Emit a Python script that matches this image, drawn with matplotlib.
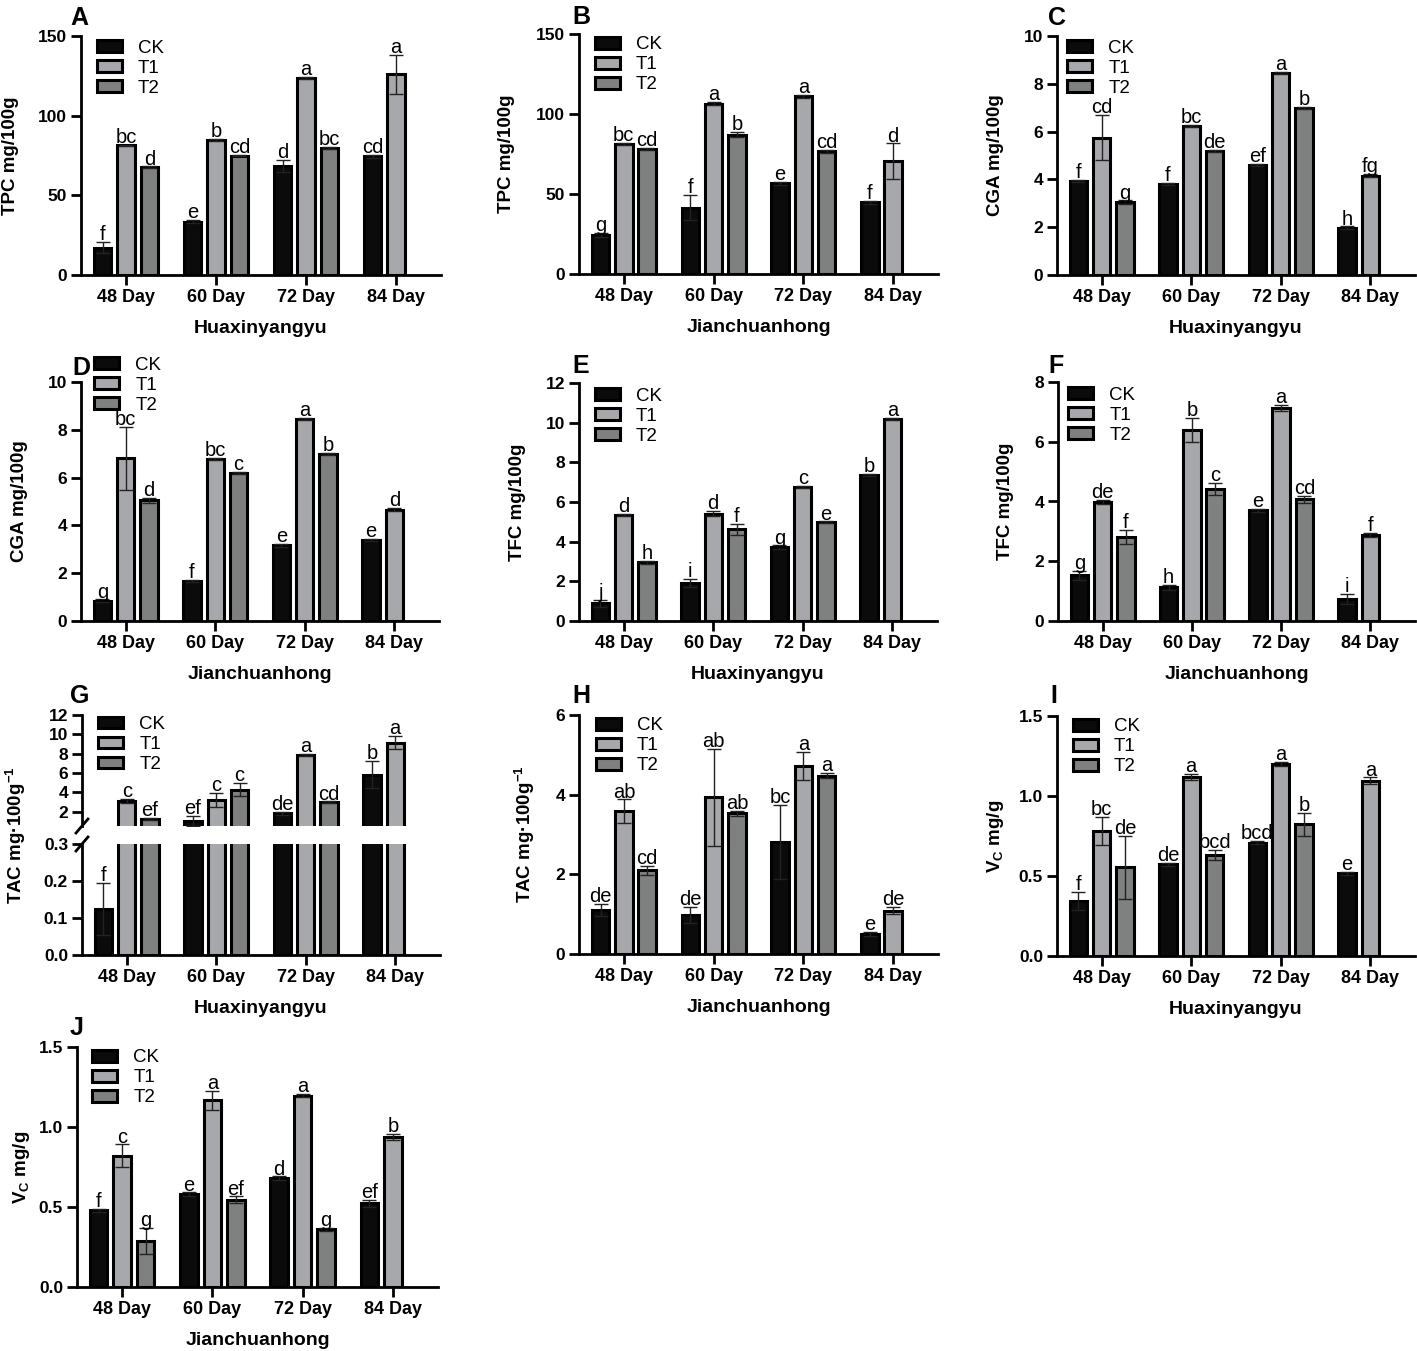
import numpy as np
import matplotlib.pyplot as plt

plt.rcParams['font.family'] = ['Liberation Sans', 'DejaVu Sans']
plt.rcParams['mathtext.fontset'] = 'custom'
plt.rcParams['mathtext.rm'] = 'Liberation Sans'
plt.rcParams['mathtext.bf'] = 'Liberation Sans:bold'
plt.rcParams['mathtext.it'] = 'Liberation Sans:italic'

nan = np.nan
days = ['48 Day', '60 Day', '72 Day', '84 Day']
groups = ['CK', 'T1', 'T2']
colors = ['#0b0b0b', '#a7a8ab', '#7f8180']

# rows: CK, T1, T2 ; columns: 48, 60, 72, 84 day (no T2 at 84 day)
# A  TPC - Huaxinyangyu
a_mean = [[17.1, 33.4, 68.3, 74.5], [81.4, 85.0, 123.6, 125.9], [67.6, 75.0, 79.7, nan]]
a_err = [[3.4, 1.0, 3.7, 0.8], [0.5, 0.6, 0.6, 12.0], [0.5, 0.6, 0.8, nan]]
a_let = [['f', 'e', 'd', 'cd'], ['bc', 'b', 'a', 'a'], ['d', 'cd', 'bc', '']]

# B  TPC - Jianchuanhong
b_mean = [[24.2, 41.5, 56.8, 44.7], [81.4, 106.5, 111.0, 70.6], [78.0, 87.0, 76.6, nan]]
b_err = [[1.2, 8.0, 1.0, 0.8], [0.5, 1.0, 1.0, 11.0], [0.5, 1.5, 1.0, nan]]
b_let = [['g', 'f', 'e', 'f'], ['bc', 'a', 'a', 'd'], ['cd', 'b', 'cd', '']]

# C  CGA - Huaxinyangyu
c_mean = [[3.93, 3.81, 4.60, 1.98], [5.75, 6.23, 8.44, 4.16], [3.05, 5.19, 7.00, nan]]
c_err = [[0.05, 0.05, 0.05, 0.05], [0.93, 0.05, 0.05, 0.05], [0.07, 0.05, 0.05, nan]]
c_let = [['f', 'f', 'ef', 'h'], ['cd', 'bc', 'a', 'fg'], ['g', 'de', 'b', '']]

# D  CGA - Jianchuanhong
d_mean = [[0.85, 1.68, 3.16, 3.38], [6.80, 6.77, 8.46, 4.66], [5.05, 6.18, 6.98, nan]]
d_err = [[0.05, 0.05, 0.05, 0.05], [1.30, 0.05, 0.05, 0.07], [0.10, 0.05, 0.05, nan]]
d_let = [['g', 'f', 'e', 'e'], ['bc', 'bc', 'a', 'd'], ['d', 'c', 'b', '']]

# E  TFC - Huaxinyangyu
e_mean = [[0.89, 1.90, 3.71, 7.35], [5.34, 5.42, 6.76, 10.20], [2.95, 4.63, 4.97, nan]]
e_err = [[0.17, 0.20, 0.10, 0.05], [0.05, 0.15, 0.05, 0.05], [0.10, 0.28, 0.05, nan]]
e_let = [['j', 'i', 'g', 'b'], ['d', 'd', 'c', 'a'], ['h', 'f', 'e', '']]

# F  TFC - Jianchuanhong
f_mean = [[1.53, 1.13, 3.70, 0.74], [3.98, 6.40, 7.12, 2.87], [2.81, 4.42, 4.08, nan]]
f_err = [[0.15, 0.08, 0.05, 0.18], [0.08, 0.40, 0.10, 0.07], [0.24, 0.20, 0.12, nan]]
f_let = [['g', 'h', 'e', 'i'], ['de', 'b', 'a', 'f'], ['f', 'c', 'cd', '']]

# G  TAC - Huaxinyangyu (broken axis)
g_mean = [[0.124, 1.02, 1.80, 5.80], [3.10, 3.20, 7.90, 9.15], [1.20, 4.26, 2.94, nan]]
g_err = [[0.07, 0.50, 0.20, 1.40], [0.20, 0.70, 0.10, 0.70], [0.10, 0.70, 0.10, nan]]
g_let = [['f', 'ef', 'de', 'b'], ['c', 'c', 'a', 'a'], ['ef', 'c', 'cd', '']]

# H  TAC - Jianchuanhong
h_mean = [[1.11, 0.99, 2.82, 0.51], [3.58, 3.93, 4.72, 1.09], [2.10, 3.53, 4.48, nan]]
h_err = [[0.15, 0.20, 0.93, 0.05], [0.30, 1.22, 0.36, 0.08], [0.12, 0.07, 0.07, nan]]
h_let = [['de', 'de', 'bc', 'e'], ['ab', 'ab', 'a', 'de'], ['cd', 'ab', 'a', '']]

# I  Vc - Huaxinyangyu
i_mean = [[0.346, 0.573, 0.708, 0.517], [0.781, 1.120, 1.200, 1.096], [0.554, 0.633, 0.823, nan]]
i_err = [[0.056, 0.010, 0.010, 0.010], [0.090, 0.020, 0.010, 0.020], [0.195, 0.030, 0.070, nan]]
i_let = [['f', 'de', 'bcd', 'e'], ['bc', 'a', 'a', 'a'], ['de', 'bcd', 'b', '']]

# J  Vc - Jianchuanhong
j_mean = [[0.479, 0.581, 0.681, 0.523], [0.821, 1.167, 1.196, 0.938], [0.288, 0.546, 0.360, nan]]
j_err = [[0.010, 0.010, 0.010, 0.020], [0.070, 0.060, 0.010, 0.020], [0.080, 0.020, 0.010, nan]]
j_let = [['f', 'e', 'd', 'ef'], ['c', 'a', 'a', 'b'], ['g', 'ef', 'g', '']]

W, H = 1417, 1351
fig = plt.figure(figsize=(W / 100, H / 100), dpi=100)

width, off = 0.195, 0.26
x = np.arange(len(days))


def rect(l, r, t, b):
    return [l / W, 1 - b / H, (r - l) / W, (b - t) / H]


def draw_bars(ax, mean, err, let):
    for i, g in enumerate(groups):
        xs = x + (i - 1) * off
        ax.bar(xs, mean[i], width, color=colors[i], edgecolor='black',
               linewidth=2.2, label=g, zorder=2)
        ax.errorbar(xs, mean[i], yerr=err[i], fmt='none', ecolor='#222222',
                    elinewidth=1, capsize=5, capthick=1, zorder=3)
        for xi, m, e, t in zip(xs, mean[i], err[i], let[i]):
            if t:
                ax.annotate(t, (xi, m + e), xytext=(0, -1.5), textcoords='offset points',
                            ha='center', va='bottom', fontsize=14.5, zorder=4)


def style(ax, ylim, yticks, fmt, xaxis=True):
    ax.spines[['top', 'right']].set_visible(False)
    ax.spines[['left', 'bottom']].set_linewidth(2)
    ax.set_xlim(-0.5, 3.5)
    ax.set_ylim(*ylim)
    ax.set_yticks(yticks, [fmt.format(v) for v in yticks], fontweight='bold', fontsize=12.5)
    ax.tick_params(width=2, length=7, pad=3)
    if xaxis:
        ax.set_xticks(x, days, fontweight='bold', fontsize=13)
    else:
        ax.set_xticks([])
        ax.spines['bottom'].set_visible(False)


def add_legend(ax, anchor):
    ax.legend(loc='upper left', bbox_to_anchor=anchor, frameon=False, fontsize=13.5,
              handlelength=1.35, handleheight=0.6, handletextpad=0.85,
              labelspacing=0.16, borderpad=0, borderaxespad=0)


tpc = 'TPC mg/100g'
cga = 'CGA mg/100g'
tfc = 'TFC mg/100g'
tac = r'TAC mg·100g$^{\mathbf{-1}}$'
vc = r'$\mathbf{V}_\mathbf{C}$ mg/g'
hx, jc = 'Huaxinyangyu', 'Jianchuanhong'

# (letter, data, labels, limits, ticks, fmt, axes px box, legend anchor, ylabel right edge px, letter pos px)
panels = [
    ('A', a_mean, a_err, a_let, tpc, hx, (0, 150), [0, 50, 100, 150], '{:g}', (81, 441, 36, 275), (0.044, 0.985), 19, (70, 25)),
    ('B', b_mean, b_err, b_let, tpc, jc, (0, 150), [0, 50, 100, 150], '{:g}', (579, 938, 34, 274), (0.044, 0.99), 515, (572, 24)),
    ('C', c_mean, c_err, c_let, cga, hx, (0, 10), [0, 2, 4, 6, 8, 10], '{:g}', (1057, 1415, 36, 275), (0.028, 0.985), 1004, (1048, 25)),
    ('D', d_mean, d_err, d_let, cga, jc, (0, 10), [0, 2, 4, 6, 8, 10], '{:g}', (81, 439, 382, 621), (0.036, 1.105), 28, (72, 375)),
    ('E', e_mean, e_err, e_let, tfc, hx, (0, 12), [0, 2, 4, 6, 8, 10, 12], '{:g}', (579, 937, 383, 621), (0.044, 0.98), 526, (572, 373)),
    ('F', f_mean, f_err, f_let, tfc, jc, (0, 8), [0, 2, 4, 6, 8], '{:g}', (1058, 1415, 382, 621), (0.028, 0.98), 1014, (1048, 373)),
    ('H', h_mean, h_err, h_let, tac, jc, (0, 6), [0, 2, 4, 6], '{:g}', (579, 938, 715, 954), (0.047, 0.99), 537, (572, 703)),
    ('I', i_mean, i_err, i_let, vc, hx, (0, 1.5), [0, 0.5, 1.0, 1.5], '{:.1f}', (1057, 1415, 716, 956), (0.044, 0.99), 1006, (1050, 703)),
    ('J', j_mean, j_err, j_let, vc, jc, (0, 1.5), [0, 0.5, 1.0, 1.5], '{:.1f}', (77, 438, 1047, 1287), (0.042, 0.99), 32, (70, 1035)),
]

for (lab, mean, err, let, ylab, xlab, ylim, yticks, fmt, r, anchor, yl_right, lpos) in panels:
    ax = fig.add_axes(rect(*r))
    draw_bars(ax, mean, err, let)
    style(ax, ylim, yticks, fmt)
    add_legend(ax, anchor)
    ax.set_ylabel(ylab, fontsize=13.5, fontweight='bold')
    ax.yaxis.set_label_coords((yl_right - r[0]) / (r[1] - r[0]), 0.5)
    ax.set_xlabel(xlab, fontsize=14, fontweight='bold', labelpad=10)
    fig.text(lpos[0] / W, 1 - lpos[1] / H, lab, fontsize=18, fontweight='bold',
             ha='left', va='baseline')

# panel G with broken y axis
ax_top = fig.add_axes(rect(82, 440, 715, 826))
ax_low = fig.add_axes(rect(82, 440, 844, 955))
for ax in (ax_top, ax_low):
    draw_bars(ax, g_mean, g_err, g_let)
style(ax_top, (0.5, 12), [2, 4, 6, 8, 10, 12], '{:g}', xaxis=False)
style(ax_low, (0, 0.3), [0.0, 0.1, 0.2, 0.3], '{:.1f}')
add_legend(ax_top, (0.045, 0.99))
ax_low.set_xlabel(hx, fontsize=14, fontweight='bold', labelpad=10)
ax_low.set_ylabel(tac, fontsize=13.5, fontweight='bold')
ax_low.yaxis.set_label_coords((28 - 82) / 358, 1.08)
for ax, yb in ((ax_top, 0.0), (ax_low, 1.0)):
    dy = 7 / ax.bbox.height
    dx = 6 / ax.bbox.width
    ax.plot([-dx, dx], [yb - dy, yb + dy], transform=ax.transAxes, color='black',
            lw=2, clip_on=False)
fig.text(70 / W, 1 - 703 / H, 'G', fontsize=18, fontweight='bold', ha='left', va='baseline')

fig.savefig('out.png', dpi=100)
